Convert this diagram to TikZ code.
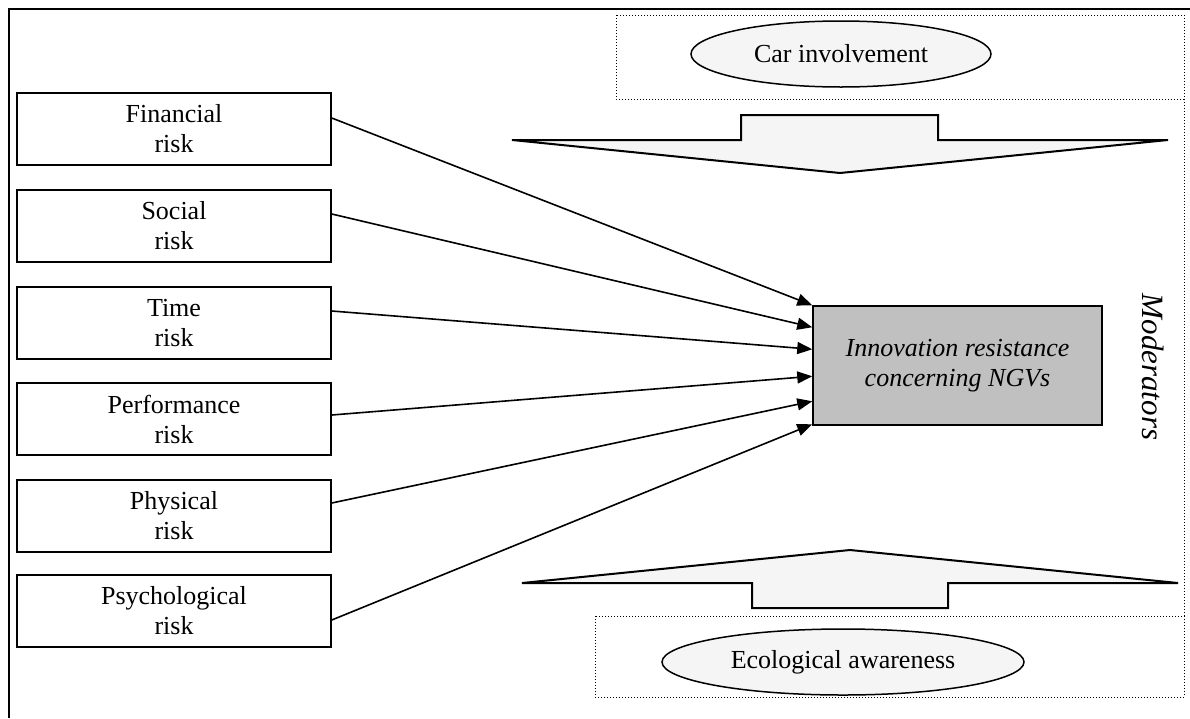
\documentclass[tikz,border=0pt]{standalone}
\usepackage{fontspec}
\setmainfont{Liberation Serif}
\usetikzlibrary{arrows.meta,calc,shapes.geometric}
\definecolor{lightfill}{HTML}{F5F5F5}
\definecolor{centerfill}{HTML}{C0C0C0}
\tikzset{
  riskbox/.style={draw, line width=1.5pt, minimum width=314pt, minimum height=72pt, inner sep=0pt, align=center, font=\fontsize{26}{30}\selectfont},
  mainbox/.style={draw, line width=1.5pt, fill=centerfill, minimum width=289pt, minimum height=119pt, inner sep=0pt, align=center, font=\fontsize{26}{30}\selectfont\itshape},
  modell/.style={draw, ellipse, line width=1.5pt, fill=lightfill, inner sep=0pt, font=\fontsize{26}{30}\selectfont},
  dotbox/.style={draw, dotted, line width=1pt},
  bigarrow/.style={draw, line width=2pt, fill=lightfill, line join=miter},
  link/.style={line width=1.6pt, -{Triangle[length=15pt,width=12pt]}},
}
\begin{document}
\begin{tikzpicture}[x=1pt,y=-1pt]
\useasboundingbox (0,0) rectangle (1190,718);
% outer frame (top and left)
\draw[line width=2pt] (9,718) -- (9,9) -- (1190,9);
% dotted moderator boxes
\draw[dotbox] (616,15) rectangle (1184,99);
\draw[dotbox] (595,616) rectangle (1184,697);
\draw[dotbox] (1184,99) -- (1184,616);
% moderator ellipses
\node[modell, minimum width=300pt, minimum height=66pt] (car) at (841,54) {Car involvement};
\node[modell, minimum width=362pt, minimum height=66pt] (eco) at (843,662) {Ecological awareness};
% big block arrows
\draw[bigarrow] (512,140) -- (741,140) -- (741,115) -- (938,115) -- (938,140) -- (1168,140) -- (840,173) -- cycle;
\draw[bigarrow] (522,583) -- (752,583) -- (752,608) -- (948,608) -- (948,583) -- (1178,583) -- (850,550) -- cycle;
% risk boxes
\node[riskbox] (fin) at (174,129) {Financial\\risk};
\node[riskbox] (soc) at (174,226) {Social\\risk};
\node[riskbox] (tim) at (174,323) {Time\\risk};
\node[riskbox] (per) at (174,419) {Performance\\risk};
\node[riskbox] (phy) at (174,516) {Physical\\risk};
\node[riskbox] (psy) at (174,611) {Psychological\\risk};
% central box
\node[mainbox] (irn) at (957.5,365.5) {Innovation resistance\\concerning NGVs};
% moderators label
\node[rotate=-90, inner sep=0pt, font=\fontsize{31}{36}\selectfont\itshape] (mod) at (1153,367) {Moderators};
% connectors
\draw[link] ($(fin.east)+(0,-11)$) -- ($(irn.north west)+(0,0)$);
\draw[link] ($(soc.east)+(0,-12)$) -- ($(irn.north west)+(0,22)$);
\draw[link] ($(tim.east)+(0,-12)$) -- ($(irn.north west)+(0,44)$);
\draw[link] ($(per.east)+(0,-4)$) -- ($(irn.north west)+(0,71)$);
\draw[link] ($(phy.east)+(0,-13)$) -- ($(irn.north west)+(0,96)$);
\draw[link] ($(psy.east)+(0,9)$) -- ($(irn.north west)+(0,119)$);
\end{tikzpicture}
\end{document}
